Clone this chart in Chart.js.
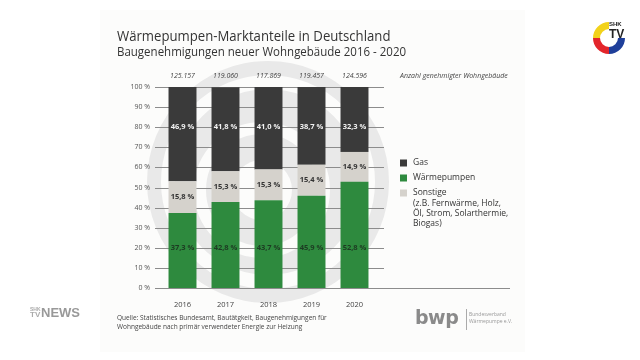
<!DOCTYPE html>
<html><head><meta charset="utf-8">
<script src="https://cdn.jsdelivr.net/npm/chart.js@4"></script>
<style>
html,body{margin:0;padding:0;background:#fff;}
#wrap{position:relative;width:640px;height:360px;overflow:hidden;font-family:"Open Sans",sans-serif;color:#333;}
canvas{position:absolute;left:0;top:0;}
.t{position:absolute;white-space:nowrap;transform-origin:0 0;}
</style></head><body>
<div id="wrap">
<svg width="640" height="360" style="position:absolute;left:0;top:0">
  <rect x="100" y="10" width="425" height="342" fill="#fcfcfb"/>
  <circle cx="268" cy="182" r="121" fill="#e9e9e9"/>
  <circle cx="268" cy="182" r="100" fill="none" stroke="#fcfcfb" stroke-width="14"/>
  <circle cx="262" cy="190" r="62" fill="none" stroke="#fcfcfb" stroke-width="12"/>
  <circle cx="262" cy="190" r="30" fill="#fcfcfb"/>
</svg>
<canvas id="c" width="640" height="360"></canvas>
<div class="t" style="left:117px;top:26px;font-size:14px;transform:scaleX(0.94);">Wärmepumpen-Marktanteile in Deutschland</div>
<div class="t" style="left:117px;top:43px;font-size:12.5px;transform:scaleX(0.92);">Baugenehmigungen neuer Wohngebäude 2016 - 2020</div>
<div class="t" style="left:117px;top:313px;font-size:6.5px;line-height:9px;color:#444;">Quelle: Statistisches Bundesamt, Bautätgkeit, Baugenehmigungen für<br>Wohngebäude nach primär verwendeter Energie zur Heizung</div>
<div class="t" style="left:415px;top:306px;font-size:19px;line-height:22px;font-weight:bold;color:#8a8a8a;font-family:'DejaVu Sans';letter-spacing:-0.5px;">bwp</div>
<div class="t" style="left:466px;top:309px;width:1px;height:21px;background:#aaa;"></div>
<div class="t" style="left:469px;top:311px;font-size:5px;line-height:7px;color:#999;">Bundesverband<br>Wärmepumpe e.V.</div>
<div class="t" style="left:30px;top:307px;font-size:5px;line-height:5px;font-weight:bold;color:#aaa;font-family:'Liberation Sans';">SHK<br><span style="font-size:8px">TV</span></div>
<div class="t" style="left:41px;top:305px;font-size:13px;font-weight:bold;color:#999;font-family:'Liberation Sans';">NEWS</div>
<svg width="50" height="50" style="position:absolute;left:584px;top:13px" viewBox="0 0 50 50">
  <path d="M25 9 A16 16 0 0 0 9 25 L16 25 A9 9 0 0 1 25 16 Z" fill="#f2d21b"/>
  <path d="M9 25 A16 16 0 0 0 25 41 L25 34 A9 9 0 0 1 16 25 Z" fill="#e3262b"/>
  <path d="M25 41 A16 16 0 0 0 41 25 L34 25 A9 9 0 0 1 25 34 Z" fill="#1f3f9a"/>
  <text x="25" y="13" font-size="6" font-weight="bold" font-family="Liberation Sans" fill="#222">SHK</text>
  <text x="25" y="25" font-size="12" font-weight="bold" font-family="Liberation Sans" fill="#222">TV</text>
</svg>
</div>
<script>
const years = ['2016','2017','2018','2019','2020'];
const totals = ['125.157','119.060','117.869','119.457','124.596'];
const gas = [46.9, 41.8, 41.0, 38.7, 32.3];
const waermepumpen = [37.3, 42.8, 43.7, 45.9, 52.8];
const sonstige = [15.8, 15.3, 15.3, 15.4, 14.9];
const legendItems = [
  {label:['Gas'], color:'#3a3a3a'},
  {label:['Wärmepumpen'], color:'#2e8a3e'},
  {label:['Sonstige','(z.B. Fernwärme, Holz,','Öl, Strom, Solarthermie,','Biogas)'], color:'#d5d2cc'}
];
const fmt = v => v.toFixed(1).replace('.', ',') + ' %';

const decor = {
  id:'decor',
  beforeDatasetsDraw(chart){
    const {ctx, chartArea:a, scales:{y}} = chart;
    ctx.save();
    ctx.strokeStyle = '#8c8c8c'; ctx.lineWidth = 1;
    y.ticks.forEach(t => {
      const py = Math.round(y.getPixelForValue(t.value)) + 0.5;
      ctx.beginPath();
      ctx.moveTo(a.left - 6, py);
      ctx.lineTo(t.value === 0 ? 510 : a.right + 8, py);
      ctx.stroke();
    });
    ctx.restore();
  },
  afterDatasetsDraw(chart){
    const {ctx, scales:{x, y}} = chart;
    ctx.save();
    ctx.textAlign = 'center'; ctx.textBaseline = 'middle';
    ctx.font = 'bold 7.5px "Open Sans"';
    years.forEach((yr, i) => {
      const px = x.getPixelForValue(i);
      ctx.fillStyle = '#f2f2f2';
      ctx.fillText(fmt(gas[i]), px, y.getPixelForValue(80));
      ctx.fillStyle = '#333';
      const sc = waermepumpen[i] + sonstige[i] / 2;
      ctx.fillText(fmt(sonstige[i]), px, y.getPixelForValue(sc));
      ctx.fillStyle = '#1d3a22';
      ctx.fillText(fmt(waermepumpen[i]), px, y.getPixelForValue(20));
    });
    ctx.font = 'italic 7px "Open Sans"';
    ctx.fillStyle = '#444';
    years.forEach((yr, i) => {
      ctx.fillText(totals[i], x.getPixelForValue(i), y.getPixelForValue(100) - 11);
    });
    ctx.textAlign = 'left';
    ctx.fillText('Anzahl genehmigter Wohngebäude', 400, y.getPixelForValue(100) - 11);
    let ly = 163;
    ctx.textBaseline = 'middle';
    ctx.font = '8.5px "Open Sans"';
    legendItems.forEach(it => {
      ctx.fillStyle = it.color;
      ctx.fillRect(400, ly - 3.5, 7, 7);
      ctx.fillStyle = '#333';
      it.label.forEach((l, k) => ctx.fillText(l, 413, ly + k * 10.3));
      ly += 15;
    });
    ctx.restore();
  }
};

new Chart(document.getElementById('c'), {
  type:'bar',
  data:{
    labels: years,
    datasets:[
      {label:'Wärmepumpen', data:waermepumpen, backgroundColor:'#2e8a3e'},
      {label:'Sonstige', data:sonstige, backgroundColor:'#d5d2cc'},
      {label:'Gas', data:gas, backgroundColor:'#3a3a3a'}
    ]
  },
  options:{
    responsive:false, animation:false,
    layout:{padding:{left:121, right:264, top:87, bottom:52}},
    plugins:{legend:{display:false}, tooltip:{enabled:false}},
    datasets:{bar:{barPercentage:0.65, categoryPercentage:1}},
    scales:{
      x:{stacked:true, grid:{display:false}, border:{display:false},
         ticks:{padding:4, color:'#444', font:{family:'Open Sans', size:7.5}},
         afterFit(s){ s.height = 20; }},
      y:{stacked:true, min:0, max:100,
         grid:{display:false, drawTicks:true, tickLength:6}, border:{display:false},
         ticks:{stepSize:10, padding:5, color:'#555', font:{family:'Open Sans', size:7},
                callback:v => v + ' %'},
         afterFit(s){ s.width = 40; }}
    }
  },
  plugins:[decor]
});
</script>
</body></html>
